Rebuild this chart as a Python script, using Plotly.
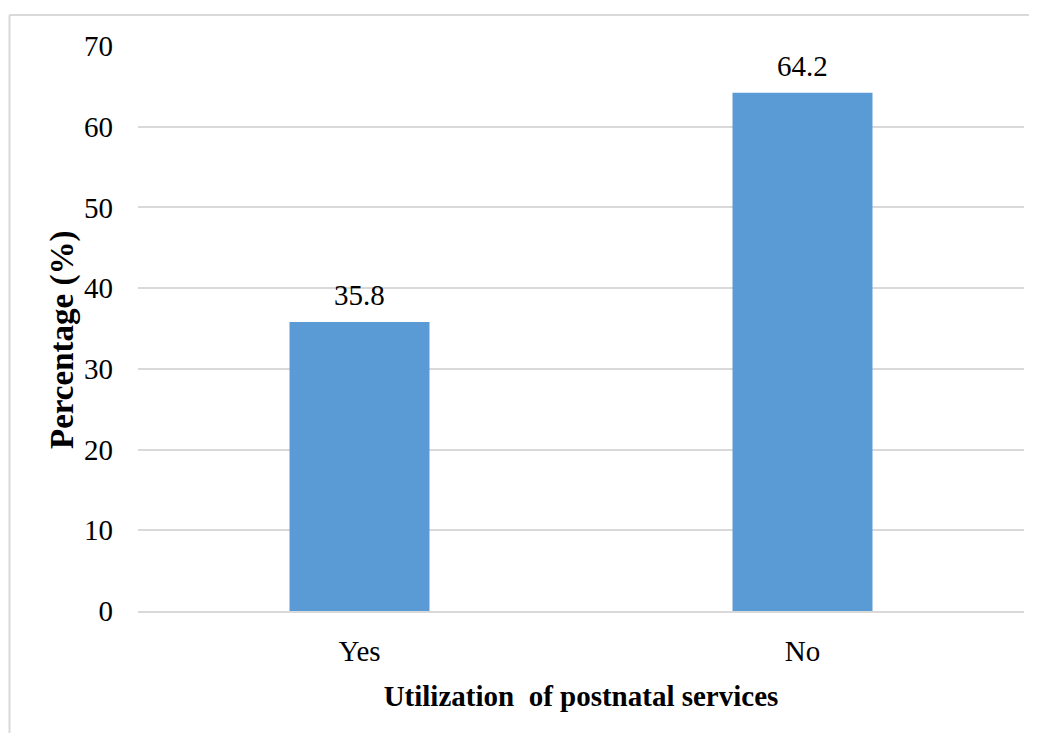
import plotly.graph_objects as go

categories = ["Yes", "No"]
values = [35.8, 64.2]
value_labels = ["35.8", "64.2"]

# page body has an 8px margin; compensate so the plot lands where the reference has it
L, R, T, B = 130, 21, 38, 130
W, H = 1037, 733
pw, ph = W - L - R, H - T - B
FS = 29
FONT = "Liberation Serif"

fig = go.Figure(go.Bar(
    x=categories, y=values,
    marker=dict(color="#5B9BD5", line=dict(width=0)),
    hoverinfo="x+y",
))

for c, v, t in zip(categories, values, value_labels):
    fig.add_annotation(x=c, y=v, text=t, showarrow=False, yanchor="middle", yshift=27,
                       font=dict(family=FONT, size=FS, color="#000000"))

# y-axis title (placed as annotation to match the reference offset)
fig.add_annotation(xref="paper", yref="paper", x=(54 - L) / pw, y=(H - B - 332) / ph,
                   text="<b>Percentage (%)</b>", textangle=-90, showarrow=False,
                   xanchor="center", yanchor="middle",
                   font=dict(family=FONT, size=33, color="#000000"))

fig.update_layout(
    width=W, height=H,
    margin=dict(l=L, r=R, t=T, b=B, pad=0),
    paper_bgcolor="white", plot_bgcolor="white",
    bargap=0.684,
    showlegend=False,
    font=dict(family=FONT, size=FS, color="#000000"),
    xaxis=dict(
        showgrid=False, showline=True, linecolor="#d9d9d9", linewidth=1.5,
        ticks="", tickfont=dict(size=FS), ticklabelstandoff=13,
        title=dict(text="<b>Utilization  of postnatal services</b>", font=dict(size=FS), standoff=20),
    ),
    yaxis=dict(
        range=[0, 70], dtick=10, showgrid=True, gridcolor="#d9d9d9", gridwidth=1.5,
        zeroline=False, showline=False, ticks="", tickfont=dict(size=FS),
        ticklabelstandoff=24,
    ),
)

bx = (1.5 - L) / pw
by = (H - B - 7) / ph
fig.add_shape(type="line", xref="paper", yref="paper", x0=bx, x1=bx, y0=-0.5, y1=by,
              line=dict(color="#d9d9d9", width=2))
fig.add_shape(type="line", xref="paper", yref="paper", x0=bx, x1=1.2, y0=by, y1=by,
              line=dict(color="#d9d9d9", width=2))

fig.write_html("out.html")
